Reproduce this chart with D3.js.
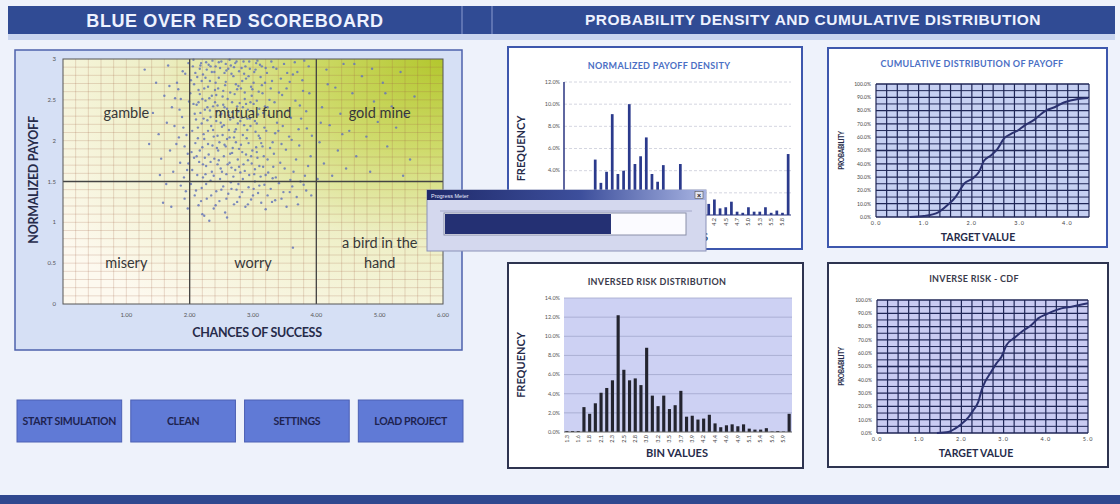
<!DOCTYPE html>
<html>
<head>
<meta charset="utf-8">
<script src="https://cdn.jsdelivr.net/npm/d3@7"></script>
<style>
  html, body { margin: 0; padding: 0; background: #eef2fb; }
  svg { display: block; }
</style>
</head>
<body>
<svg id="board" width="1120" height="504"></svg>
<script>
// ---------- data ----------
const headerTitles = ["BLUE OVER RED SCOREBOARD", "PROBABILITY DENSITY AND CUMULATIVE DISTRIBUTION"];

const quadrantNames = [["gamble"], ["mutual fund"], ["gold mine"], ["misery"], ["worry"], ["a bird in the", "hand"]];
const quadrantCentersX = [1, 3, 5, 1, 3, 5];
const quadrantCentersY = [2.34, 2.34, 2.34, 0.5, 0.5, 0.62];
const scatterDividersX = [2, 4];
const scatterDividersY = [1.5];
const scatterXTicks = [1, 2, 3, 4, 5, 6];
const scatterYTicks = [0, 0.5, 1, 1.5, 2, 2.5, 3];

// simulation outcomes: [chances of success, normalized payoff]
const scatterPoints = [
  [2.05,2.91],[2.12,2.78],[2.18,2.95],[2.23,2.64],[2.27,2.87],[2.31,2.52],[2.36,2.98],[2.41,2.71],[2.44,2.43],[2.48,2.89],
  [2.53,2.61],[2.57,2.94],[2.61,2.35],[2.66,2.82],[2.71,2.57],[2.74,2.97],[2.79,2.46],[2.83,2.73],[2.88,2.91],[2.92,2.38],
  [2.97,2.66],[3.02,2.84],[3.06,2.49],[3.11,2.93],[3.15,2.58],
  [2.08,2.33],[2.14,2.47],[2.19,2.21],[2.24,2.38],[2.29,2.12],[2.33,2.29],[2.38,2.05],[2.42,2.24],[2.47,1.98],[2.51,2.17],
  [2.55,2.41],[2.59,2.02],[2.64,2.26],[2.68,1.91],[2.73,2.14],[2.77,2.36],[2.81,1.95],[2.86,2.19],[2.90,2.03],[2.95,2.27],
  [2.99,1.88],[3.04,2.11],[3.08,2.32],[3.13,1.97],[3.18,2.16],
  [2.03,1.86],[2.09,1.97],[2.15,1.74],[2.20,1.92],[2.26,1.69],[2.30,1.83],[2.35,1.62],[2.39,1.78],[2.45,1.88],[2.49,1.66],
  [2.54,1.81],[2.58,1.59],[2.63,1.73],[2.67,1.85],[2.72,1.64],[2.76,1.77],[2.80,1.61],[2.85,1.71],[2.89,1.83],[2.94,1.58],
  [2.98,1.72],[3.03,1.65],[3.07,1.79],[3.12,1.56],[3.16,1.68],
  [2.01,2.58],[2.07,2.69],[2.11,2.44],[2.16,2.57],[2.21,2.81],[2.25,2.49],[2.32,2.73],[2.37,2.42],[2.40,2.62],[2.46,2.77],
  [2.50,2.33],[2.56,2.68],[2.60,2.51],[2.65,2.92],[2.69,2.28],[2.75,2.63],[2.78,2.85],[2.84,2.41],[2.87,2.59],[2.93,2.79],
  [2.96,2.47],[3.01,2.71],[3.05,2.95],[3.10,2.39],[3.14,2.68],
  [2.04,2.12],[2.10,2.26],[2.13,2.03],[2.17,2.34],[2.22,2.08],[2.28,2.41],[2.34,2.18],[2.43,2.36],[2.52,2.07],[2.62,2.31],
  [2.70,2.04],[2.82,2.28],[2.91,2.13],[3.00,2.36],[3.09,2.06],[3.19,2.42],
  [2.06,2.99],[2.16,2.88],[2.26,2.96],[2.39,2.84],[2.46,2.96],[2.58,2.86],[2.63,2.99],[2.70,2.90],[2.85,2.97],[2.95,2.88],
  [3.07,2.98],[3.20,2.89],
  [2.11,1.81],[2.24,1.79],[2.36,1.94],[2.44,1.71],[2.57,1.93],[2.66,1.67],[2.78,1.90],[2.92,1.76],[3.05,1.92],[3.17,1.81],
  [2.14,2.62],[2.22,2.27],[2.29,2.66],[2.35,2.55],[2.49,2.22],[2.55,2.83],[2.62,2.13],[2.67,2.47],[2.76,2.21],[2.81,2.64],
  [2.89,2.45],[2.98,2.55],[3.03,2.24],[3.12,2.78],[2.19,2.73],[2.33,2.91],[2.42,2.56],[2.53,2.44],[2.73,2.69],[2.86,2.82],
  [2.02,2.74],[2.06,2.45],[2.09,2.83],[2.13,2.16],[2.17,2.92],[2.20,2.51],[2.23,2.02],[2.25,2.77],[2.28,2.25],[2.30,2.93],
  [2.32,2.37],[2.35,2.84],[2.37,2.13],[2.40,2.47],[2.41,2.91],[2.44,2.06],[2.45,2.64],[2.48,2.31],[2.50,2.97],[2.52,2.54],
  [2.54,2.19],[2.57,2.72],[2.59,2.39],[2.61,2.88],[2.63,2.04],[2.64,2.59],[2.67,2.35],[2.69,2.79],[2.71,2.11],[2.72,2.95],
  [2.75,2.42],[2.77,2.67],[2.80,2.24],[2.82,2.89],[2.84,2.07],[2.87,2.51],[2.89,2.76],[2.91,2.27],[2.94,2.97],[2.96,2.18],
  [2.99,2.63],[3.01,2.45],[3.04,2.87],[3.06,2.21],[3.09,2.60],[3.11,2.03],[3.14,2.91],[3.16,2.34],[3.19,2.71],[3.21,2.12],
  [2.04,1.64],[2.07,1.79],[2.12,1.58],[2.16,1.88],[2.21,1.71],[2.25,1.59],[2.29,1.96],[2.33,1.74],[2.38,1.57],[2.43,1.91],
  [2.46,1.76],[2.51,1.62],[2.55,1.95],[2.60,1.71],[2.64,1.84],[2.69,1.56],[2.73,1.98],[2.78,1.68],[2.83,1.86],[2.87,1.63],
  [2.93,1.97],[2.97,1.81],[3.02,1.59],[3.06,1.86],[3.10,1.69],[3.15,1.93],[3.20,1.58],[3.23,1.77],[3.27,1.91],[3.32,1.68],
  [1.72,2.41],[1.76,2.18],[1.79,1.96],[1.82,2.63],[1.85,1.73],[1.88,2.29],[1.91,1.55],[1.93,2.82],[1.95,2.07],[1.97,1.84],
  [1.99,2.48],[1.74,1.62],[1.80,2.71],[1.86,1.45],[1.90,2.16],[1.94,1.38],[1.98,2.95],[1.83,2.04],[1.77,2.52],[1.96,1.64],
  [1.84,2.38],[1.89,2.85],[1.92,1.93],[1.86,2.51],[1.98,1.72],
  [3.22,2.83],[3.25,2.31],[3.28,2.64],[3.31,1.98],[3.34,2.47],[3.37,2.88],[3.40,2.12],[3.43,1.73],[3.46,2.56],[3.49,2.94],
  [3.52,1.89],[3.55,2.37],[3.58,2.72],[3.61,2.01],[3.64,1.62],[3.67,2.49],[3.70,2.84],[3.73,1.94],[3.76,2.27],[3.79,2.61],
  [3.82,1.57],[3.85,2.15],[3.88,2.91],[3.91,1.81],[3.24,1.61],[3.29,2.97],[3.33,1.84],[3.38,2.22],[3.44,2.76],[3.50,1.66],
  [3.57,2.05],[3.63,2.81],[3.68,1.77],[3.74,2.43],[3.81,2.98],[3.87,1.69],[3.26,2.50],[3.36,1.55],[3.47,2.18],[3.59,1.52],
  [3.23,2.41],[3.30,2.73],[3.35,2.09],[3.41,2.59],[3.45,1.96],[3.53,2.64],[3.60,2.28],[3.66,2.96],[3.72,2.14],[3.78,2.74],
  [3.84,2.36],[3.89,2.58],[3.93,2.06],[3.32,2.90],[3.54,2.83],
  [2.02,1.47],[2.08,1.33],[2.14,1.21],[2.19,1.42],[2.23,1.08],[2.27,1.29],[2.33,1.51],[2.38,1.17],[2.42,1.38],[2.47,1.26],
  [2.53,1.44],[2.56,1.12],[2.61,1.35],[2.65,1.49],[2.70,1.22],[2.74,1.40],[2.79,1.31],[2.84,1.53],[2.88,1.19],[2.93,1.43],
  [2.97,1.28],[3.03,1.50],[3.08,1.36],[3.13,1.24],[3.18,1.46],[3.23,1.33],[3.28,1.41],[3.35,1.27],[3.41,1.48],[3.48,1.37],
  [3.53,1.19],[3.62,1.44],[3.69,1.31],[3.75,1.50],[3.84,1.39],[2.21,1.55],[2.48,1.53],[2.77,1.47],[3.01,1.41],[3.31,1.54],
  [2.10,1.39],[2.18,1.26],[2.26,1.47],[2.34,1.33],[2.41,1.21],[2.50,1.40],[2.58,1.29],[2.66,1.41],[2.75,1.25],[2.83,1.37],
  [2.92,1.22],[3.00,1.33],[3.10,1.45],[3.20,1.16],[3.30,1.25],[3.45,1.29],[3.58,1.37],[3.71,1.22],[3.80,1.46],[3.92,1.33],
  [1.92,1.29],[1.97,1.17],[2.31,1.02],[2.59,1.06],[3.63,0.69],[2.20,1.10],
  [4.05,1.98],[4.09,2.41],[4.12,1.72],[4.16,2.87],[4.21,2.19],[4.25,1.57],[4.30,2.65],[4.34,1.88],[4.38,2.33],[4.43,2.94],
  [4.47,1.66],[4.52,2.12],[4.57,2.58],[4.63,1.81],[4.68,2.36],[4.72,2.79],[4.79,2.05],[4.85,1.62],[4.91,2.48],[4.97,2.23],
  [5.05,2.71],[5.12,1.93],[5.19,2.42],[5.26,2.16],[5.33,2.84],[5.41,2.31],[5.48,1.77],[5.55,2.54],[4.18,2.69],[4.02,1.53],
  [4.41,2.08],[4.60,2.94],[4.88,2.88],[5.09,2.58],[5.37,1.57],[4.07,2.22],
  [1.29,2.87],[1.42,2.34],[1.51,2.08],[1.55,1.78],[1.60,2.55],[1.63,1.47],[1.66,2.92],[1.69,1.88],[1.58,1.24],[1.47,2.71],
  [1.36,1.96],[1.71,1.19],[1.64,2.22],[1.53,1.58],[1.68,2.67]
];

// histogram frequencies (%), 40 bins each
const payoffBins = [0,0,0,0,0,5.0,2.9,3.9,9.1,3.7,4.0,10.0,4.6,5.3,7.0,3.7,3.0,4.5,1.8,1.2,
                    4.6,1.7,2.1,1.3,1.5,1.0,1.4,0.6,0.7,1.2,0.3,0.2,0.7,0.3,0.3,0.7,0.2,0.4,0.2,5.5];
const payoffBinLabels = ["0.8","1.1","1.3","1.6","1.9","2.1","2.4","2.6","2.9","3.2",
                         "3.4","3.7","3.9","4.2","4.5","4.7","5.0","5.3","5.5","5.8"];
const riskBins = [0.1,0.1,0.1,2.6,1.9,3.0,4.1,4.6,5.4,12.2,6.5,5.4,5.6,4.9,8.8,3.8,2.7,3.8,2.4,2.8,
                  4.3,1.6,1.7,1.3,1.4,1.8,0.9,0.5,0.7,0.8,0.6,0.8,0.35,0.25,0.25,0.4,0.05,0.1,0.05,1.9];
const riskBinLabels = ["1.3","1.6","1.8","2.1","2.3","2.5","2.8","3.0","3.2","3.5",
                       "3.7","3.9","4.2","4.4","4.6","4.9","5.1","5.4","5.6","5.9"];

// cumulative distributions (target value, probability %)
const payoffCdfX = [0.71,1.0,1.31,1.49,1.66,1.73,1.84,2.01,2.15,2.26,2.40,2.54,2.68,2.82,2.96,3.10,3.31,3.45,3.55,3.73,3.94,4.22,4.43];
const payoffCdfY = [0,0.75,3.75,8.75,15,18.75,25,28.75,33.75,42.5,46.25,51.25,59.25,62.5,65,68.75,73.25,77.5,80,82.5,86.25,88.75,89.5];
const riskCdfX = [1.42,1.69,1.85,2.01,2.17,2.28,2.40,2.48,2.56,2.68,2.83,2.95,3.07,3.27,3.46,3.66,3.82,4.02,4.21,4.37,4.61,5.0];
const riskCdfY = [0,0.75,3.3,7,12,17,23.4,32.2,38.4,44.7,52.3,57.3,66.1,71.9,76.9,81.2,86.2,89.4,92,93.7,95,97.5];
const cdfXTicks = [0, 1, 2, 3, 4];
const riskCdfXTicks = [0, 1, 2, 3, 4, 5];

const buttonLabels = ["START SIMULATION", "CLEAN", "SETTINGS", "LOAD PROJECT"];
const progressTitle = "Progress Meter";
const progressDone = 0.69;

// ---------- drawing ----------
const W = 1120, H = 504;
const CAL = "Lato, 'Open Sans', sans-serif";
const ARIAL = "'Liberation Sans', Arial, sans-serif";
const svg = d3.select("#board");
const defs = svg.append("defs");

svg.append("rect").attr("width", W).attr("height", H).attr("fill", "#eef2fb");

// header band
svg.append("rect").attr("x", 8).attr("y", 6).attr("width", 1107).attr("height", 28).attr("fill", "#304b94");
[462, 492].forEach(x => svg.append("line").attr("x1", x).attr("x2", x).attr("y1", 6).attr("y2", 34)
  .attr("stroke", "#8a9cd0").attr("stroke-width", 1));
svg.append("rect").attr("x", 8).attr("y", 34).attr("width", 1107).attr("height", 6).attr("fill", "#c9d5ef");
svg.append("text").attr("x", 235).attr("y", 26.5).attr("text-anchor", "middle")
  .attr("font-family", ARIAL).attr("font-weight", "bold").attr("font-size", 18).attr("letter-spacing", 0.6)
  .attr("fill", "#eef2ff").text(headerTitles[0]);
svg.append("text").attr("x", 813).attr("y", 24.5).attr("text-anchor", "middle")
  .attr("font-family", ARIAL).attr("font-weight", "bold").attr("font-size", 15.5).attr("letter-spacing", 0.5)
  .attr("fill", "#eef2ff").text(headerTitles[1]);

// footer band
svg.append("rect").attr("x", 0).attr("y", 495).attr("width", W).attr("height", 9).attr("fill", "#30488f");

// ---------- scoreboard scatter ----------
svg.append("rect").attr("x", 15).attr("y", 50).attr("width", 447).attr("height", 300)
  .attr("fill", "#d6e0f5").attr("stroke", "#4d62ac").attr("stroke-width", 1.5);

const sx = d3.scaleLinear().domain([0, 6]).range([63, 443]);
const sy = d3.scaleLinear().domain([0, 3]).range([304, 59]);

const grad = defs.append("radialGradient").attr("id", "fieldGlow")
  .attr("cx", 1).attr("cy", 0).attr("r", 1.25);
[[0, "#b3c72e"], [0.3, "#cfdb6c"], [0.6, "#eeefc6"], [1, "#fdf9ef"]].forEach(([o, c]) =>
  grad.append("stop").attr("offset", o).attr("stop-color", c));

const field = svg.append("g");
field.append("rect").attr("x", sx(0)).attr("y", sy(3)).attr("width", sx(6) - sx(0)).attr("height", sy(0) - sy(3))
  .attr("fill", "url(#fieldGlow)");

field.selectAll("line.vminor").data(d3.range(0.2, 6, 0.2)).join("line")
  .attr("x1", d => sx(d)).attr("x2", d => sx(d)).attr("y1", sy(0)).attr("y2", sy(3))
  .attr("stroke", "rgba(160,95,70,0.28)").attr("stroke-width", 0.8);
field.selectAll("line.hminor").data(d3.range(0.1, 3, 0.1)).join("line")
  .attr("x1", sx(0)).attr("x2", sx(6)).attr("y1", d => sy(d)).attr("y2", d => sy(d))
  .attr("stroke", "rgba(160,95,70,0.28)").attr("stroke-width", 0.8);

field.selectAll("circle").data(scatterPoints).join("circle")
  .attr("cx", d => sx(d[0])).attr("cy", d => sy(d[1])).attr("r", 1.2)
  .attr("fill", "#6677b8").attr("opacity", 0.85);

field.selectAll("line.vmajor").data(scatterDividersX).join("line")
  .attr("x1", d => sx(d)).attr("x2", d => sx(d)).attr("y1", sy(0)).attr("y2", sy(3))
  .attr("stroke", "#444").attr("stroke-width", 1.3);
field.selectAll("line.hmajor").data(scatterDividersY).join("line")
  .attr("x1", sx(0)).attr("x2", sx(6)).attr("y1", d => sy(d)).attr("y2", d => sy(d))
  .attr("stroke", "#444").attr("stroke-width", 1.3);
field.append("rect").attr("x", sx(0)).attr("y", sy(3)).attr("width", sx(6) - sx(0)).attr("height", sy(0) - sy(3))
  .attr("fill", "none").attr("stroke", "#555").attr("stroke-width", 1);

quadrantNames.forEach((lines, i) => {
  const t = field.append("text").attr("text-anchor", "middle").attr("font-family", CAL)
    .attr("font-size", 14.5).attr("fill", "#383838");
  const y0 = sy(quadrantCentersY[i]) - (lines.length - 1) * 10;
  lines.forEach((s, k) => t.append("tspan").attr("x", sx(quadrantCentersX[i])).attr("y", y0 + k * 20 + 5).text(s));
});

svg.selectAll("text.sxt").data(scatterXTicks).join("text")
  .attr("x", d => sx(d)).attr("y", 317).attr("text-anchor", "middle")
  .attr("font-family", CAL).attr("font-size", 6).attr("fill", "#555").text(d => d.toFixed(2));
svg.selectAll("text.syt").data(scatterYTicks).join("text")
  .attr("x", 56).attr("y", d => sy(d) + 2).attr("text-anchor", "end")
  .attr("font-family", CAL).attr("font-size", 6).attr("fill", "#555").text(d => String(d));

svg.append("text").attr("x", 257).attr("y", 337).attr("text-anchor", "middle")
  .attr("font-family", CAL).attr("font-weight", "bold").attr("font-size", 12.5).attr("letter-spacing", -0.3)
  .attr("fill", "#262b4a").text("CHANCES OF SUCCESS");
svg.append("text").attr("transform", "translate(38,180) rotate(-90)").attr("text-anchor", "middle")
  .attr("font-family", CAL).attr("font-weight", "bold").attr("font-size", 12.5).attr("letter-spacing", -0.3)
  .attr("fill", "#262b4a").text("NORMALIZED PAYOFF");

// ---------- control buttons ----------
const bx = d3.scaleBand().domain(buttonLabels).range([17, 463]).paddingInner(0.08);
const btn = svg.selectAll("g.btn").data(buttonLabels).join("g");
btn.append("rect").attr("x", d => bx(d)).attr("y", 400).attr("width", bx.bandwidth()).attr("height", 42)
  .attr("fill", "#607ad6").attr("stroke", "#4c60b4").attr("stroke-width", 1);
btn.append("text").attr("x", d => bx(d) + bx.bandwidth() / 2).attr("y", 425).attr("text-anchor", "middle")
  .attr("font-family", CAL).attr("font-weight", "bold").attr("font-size", 10.5).attr("letter-spacing", -0.3)
  .attr("fill", "#1e2350").text(d => d);

// ---------- histogram panels ----------
function drawHistogram(cfg) {
  const g = svg.append("g");
  g.append("rect").attr("x", cfg.frame[0]).attr("y", cfg.frame[1]).attr("width", cfg.frame[2]).attr("height", cfg.frame[3])
    .attr("fill", "#fff").attr("stroke", cfg.frameColor).attr("stroke-width", 2);
  const x = d3.scaleBand().domain(d3.range(cfg.values.length)).range([cfg.left, cfg.right])
    .paddingInner(cfg.pad).paddingOuter(cfg.pad / 2);
  const y = d3.scaleLinear().domain([0, cfg.max]).range([cfg.bottom, cfg.top]);
  if (cfg.plotFill) g.append("rect").attr("x", cfg.left).attr("y", cfg.top)
    .attr("width", cfg.right - cfg.left).attr("height", cfg.bottom - cfg.top).attr("fill", cfg.plotFill);
  const ticks = d3.range(0, cfg.max + 0.01, 2);
  g.selectAll("line.grid").data(ticks.filter(d => d > 0)).join("line")
    .attr("x1", cfg.left).attr("x2", cfg.right).attr("y1", d => y(d)).attr("y2", d => y(d))
    .attr("stroke", cfg.gridColor).attr("stroke-width", 0.8).attr("stroke-dasharray", cfg.gridDash || null);
  g.selectAll("text.yt").data(ticks).join("text")
    .attr("x", cfg.left - 4).attr("y", d => y(d) + 1.8).attr("text-anchor", "end")
    .attr("font-family", CAL).attr("font-size", 5.5).attr("fill", "#555").text(d => d.toFixed(1) + "%");
  g.selectAll("rect.bar").data(cfg.values).join("rect")
    .attr("x", (d, i) => x(i)).attr("width", x.bandwidth())
    .attr("y", d => y(d)).attr("height", d => y(0) - y(d)).attr("fill", cfg.barColor);
  if (cfg.yAxis) g.append("line").attr("x1", cfg.left).attr("x2", cfg.left).attr("y1", cfg.top).attr("y2", cfg.bottom)
    .attr("stroke", cfg.axisColor).attr("stroke-width", 1.5);
  g.append("line").attr("x1", cfg.left).attr("x2", cfg.right).attr("y1", cfg.bottom).attr("y2", cfg.bottom)
    .attr("stroke", cfg.axisColor).attr("stroke-width", 1);
  g.selectAll("text.xt").data(cfg.labels).join("text")
    .attr("transform", (d, k) => `translate(${x(k * 2) + x.bandwidth() / 2 + 1.8},${cfg.bottom + 3}) rotate(-90)`)
    .attr("text-anchor", "end").attr("font-family", CAL).attr("font-size", 5.5).attr("fill", "#444").text(d => d);
  g.append("text").attr("x", cfg.titleX).attr("y", cfg.titleY).attr("text-anchor", "middle")
    .attr("font-family", CAL).attr("font-weight", "bold").attr("font-size", 9).attr("letter-spacing", 0.3)
    .attr("fill", cfg.titleColor).text(cfg.title);
  g.append("text").attr("transform", `translate(${cfg.frame[0] + 17},${(cfg.top + cfg.bottom) / 2}) rotate(-90)`)
    .attr("text-anchor", "middle").attr("font-family", CAL).attr("font-weight", "bold").attr("font-size", 11)
    .attr("fill", "#262b4a").text("FREQUENCY");
  g.append("text").attr("x", cfg.xTitleX).attr("y", cfg.xTitleY).attr("text-anchor", "middle")
    .attr("font-family", CAL).attr("font-weight", "bold").attr("font-size", 11)
    .attr("fill", "#262b4a").text("BIN VALUES");
}

drawHistogram({
  frame: [508, 47, 294, 202], frameColor: "#3d57ad",
  left: 564, right: 791, top: 82, bottom: 215, max: 12, pad: 0.52,
  values: payoffBins, labels: payoffBinLabels,
  gridColor: "#c9ccd8", gridDash: "3,2", barColor: "#2b3a8c", axisColor: "#2a3580", yAxis: true,
  title: "NORMALIZED PAYOFF DENSITY", titleX: 659, titleY: 69, titleColor: "#4b6fc4",
  xTitleX: 677, xTitleY: 241
});

drawHistogram({
  frame: [508, 263, 295, 205], frameColor: "#2e3450",
  left: 564, right: 792, top: 298, bottom: 432, max: 14, pad: 0.45,
  values: riskBins, labels: riskBinLabels, plotFill: "#cdd1f3",
  gridColor: "#a2a7cc", barColor: "#23242f", axisColor: "#666", yAxis: false,
  title: "INVERSED RISK DISTRIBUTION", titleX: 657, titleY: 285, titleColor: "#3b3b4b",
  xTitleX: 677, xTitleY: 457
});

// ---------- cumulative distribution panels ----------
function drawCdf(cfg) {
  const g = svg.append("g");
  g.append("rect").attr("x", cfg.frame[0]).attr("y", cfg.frame[1]).attr("width", cfg.frame[2]).attr("height", cfg.frame[3])
    .attr("fill", "#fff").attr("stroke", cfg.frameColor).attr("stroke-width", 2);
  const x = d3.scaleLinear().domain([0, cfg.xMax]).range([cfg.left, cfg.right]);
  const y = d3.scaleLinear().domain([0, 100]).range([cfg.bottom, cfg.top]);
  g.append("rect").attr("x", cfg.left).attr("y", cfg.top).attr("width", cfg.right - cfg.left)
    .attr("height", cfg.bottom - cfg.top).attr("fill", cfg.plotFill);
  g.selectAll("line.v").data(d3.range(0, 21)).join("line")
    .attr("x1", d => x(d * cfg.xMax / 20)).attr("x2", d => x(d * cfg.xMax / 20))
    .attr("y1", cfg.top).attr("y2", cfg.bottom).attr("stroke", "#1f2656").attr("stroke-width", 1.2);
  g.selectAll("line.h").data(d3.range(0, 101, 5)).join("line")
    .attr("x1", cfg.left).attr("x2", cfg.right).attr("y1", d => y(d)).attr("y2", d => y(d))
    .attr("stroke", "#1f2656").attr("stroke-width", d => d % 10 === 0 ? 1.3 : 1);
  g.selectAll("text.yt").data(d3.range(0, 101, 10)).join("text")
    .attr("x", cfg.left - 5).attr("y", d => y(d) + 1.8).attr("text-anchor", "end")
    .attr("font-family", CAL).attr("font-size", 5).attr("fill", "#444").text(d => d.toFixed(1) + "%");
  g.selectAll("text.xt").data(cfg.xTicks).join("text")
    .attr("x", d => x(d)).attr("y", cfg.bottom + 8).attr("text-anchor", "middle")
    .attr("font-family", CAL).attr("font-size", 5.5).attr("letter-spacing", 1).attr("fill", "#444").text(d => d.toFixed(1));
  const pts = cfg.xs.map((v, i) => [v, cfg.ys[i]]);
  g.append("path").attr("d", d3.line().x(d => x(d[0])).y(d => y(d[1])).curve(d3.curveMonotoneX)(pts))
    .attr("fill", "none").attr("stroke", "#2b3170").attr("stroke-width", 2);
  g.append("text").attr("x", cfg.titleX).attr("y", cfg.titleY).attr("text-anchor", "middle")
    .attr("font-family", CAL).attr("font-weight", "bold").attr("font-size", 9).attr("letter-spacing", 0.3)
    .attr("fill", cfg.titleColor).text(cfg.title);
  g.append("text").attr("transform", `translate(${cfg.frame[0] + 16},${(cfg.top + cfg.bottom) / 2}) rotate(-90)`)
    .attr("text-anchor", "middle").attr("font-family", CAL).attr("font-weight", "bold").attr("font-size", 6.5)
    .attr("letter-spacing", -0.3).attr("fill", "#262b4a").text("PROBABILITY");
  g.append("text").attr("x", cfg.xTitleX).attr("y", cfg.bottom + 24).attr("text-anchor", "middle")
    .attr("font-family", CAL).attr("font-weight", "bold").attr("font-size", 10.5)
    .attr("fill", "#262b4a").text("TARGET VALUE");
}

drawCdf({
  frame: [828, 48, 279, 199], frameColor: "#3d57ad",
  left: 876, right: 1089, top: 84, bottom: 217, xMax: 4.45, xTicks: cdfXTicks,
  plotFill: "#c6d0f2", xs: payoffCdfX, ys: payoffCdfY,
  title: "CUMULATIVE DISTRIBUTION OF PAYOFF", titleX: 972, titleY: 67, titleColor: "#4b6fc4",
  xTitleX: 978
});

drawCdf({
  frame: [828, 263, 280, 204], frameColor: "#2e3450",
  left: 877, right: 1088, top: 300, bottom: 433, xMax: 5, xTicks: riskCdfXTicks,
  plotFill: "#c9cbf2", xs: riskCdfX, ys: riskCdfY,
  title: "INVERSE RISK - CDF", titleX: 974, titleY: 282, titleColor: "#3b3b4b",
  xTitleX: 976
});

// ---------- progress dialog ----------
const barGrad = defs.append("linearGradient").attr("id", "dlgTitle").attr("x1", 0).attr("x2", 1).attr("y1", 0).attr("y2", 0);
[[0, "#1f2a6a"], [0.55, "#3d4f9c"], [1, "#a8b4e2"]].forEach(([o, c]) =>
  barGrad.append("stop").attr("offset", o).attr("stop-color", c));

const dlg = svg.append("g");
dlg.append("rect").attr("x", 427).attr("y", 190).attr("width", 279).attr("height", 61)
  .attr("fill", "#d4d8ee").attr("stroke", "#8a91b8").attr("stroke-width", 1);
dlg.append("rect").attr("x", 427).attr("y", 190).attr("width", 279).attr("height", 10).attr("fill", "url(#dlgTitle)");
dlg.append("text").attr("x", 431).attr("y", 197.5).attr("font-family", ARIAL).attr("font-size", 5.5)
  .attr("fill", "#e8ecff").text(progressTitle);
dlg.append("rect").attr("x", 695).attr("y", 191.5).attr("width", 8).attr("height", 7)
  .attr("fill", "#e4e6f2").attr("stroke", "#555").attr("stroke-width", 0.6);
dlg.append("text").attr("x", 699).attr("y", 197.6).attr("text-anchor", "middle").attr("font-family", ARIAL)
  .attr("font-weight", "bold").attr("font-size", 7).attr("fill", "#222").text("×");
dlg.append("line").attr("x1", 440).attr("x2", 692).attr("y1", 211).attr("y2", 211)
  .attr("stroke", "#9aa0c0").attr("stroke-width", 0.8);

const px = d3.scaleLinear().domain([0, 1]).range([444, 686]);
dlg.append("rect").attr("x", px(0)).attr("y", 213).attr("width", px(1) - px(0)).attr("height", 22)
  .attr("fill", "#fbfbff").attr("stroke", "#8a8fa8").attr("stroke-width", 1);
dlg.append("rect").attr("x", px(0) + 1).attr("y", 214).attr("width", px(progressDone) - px(0) - 1).attr("height", 20)
  .attr("fill", "#243073");
</script>
</body>
</html>
